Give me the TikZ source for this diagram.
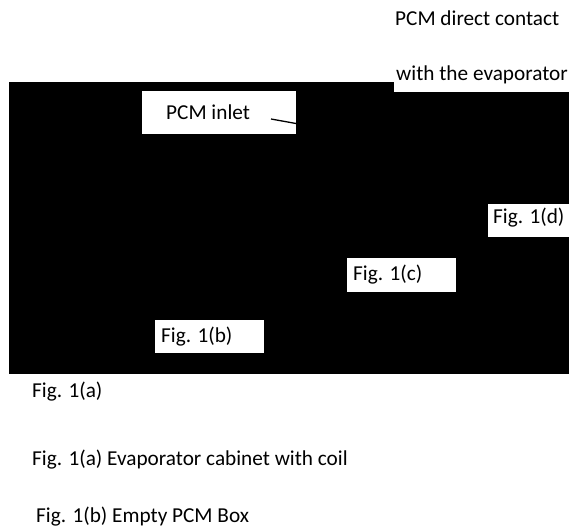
\documentclass[tikz,border=0pt]{standalone}
\usepackage{fontspec}
\setmainfont{Carlito}
\begin{document}
\begin{tikzpicture}[x=1pt,y=-1pt,
  txt/.style={anchor=base west,inner sep=0pt,font=\fontsize{21.25}{25}\selectfont},
  labelbox/.style={fill=white,draw=none}]
\useasboundingbox (0,0) rectangle (569,529);
% photo panel
\fill[black] (9,82) rectangle (569,374);
% white label boxes
\fill[labelbox] (394,60) rectangle (569,92);
\fill[labelbox] (142,91) rectangle (296,134);
\fill[labelbox] (488,204) rectangle (569,237);
\fill[labelbox] (347,258) rectangle (456,292);
\fill[labelbox] (155,320) rectangle (264,353);
% labels
\node[txt] (pcmdc) at (395,26) {PCM direct contact};
\node[txt] (evap) at (396,81) {with the evaporator};
\node[txt] (inlet) at (166,120) {PCM inlet};
\node[txt] (figd) at (493,223) {Fig. 1(d)};
\node[txt] (figc) at (353,280) {Fig. 1(c)};
\node[txt] (figb) at (161,342) {Fig. 1(b)};
\node[txt] (figa) at (32,397) {Fig. 1(a)};
\node[txt] (capa) at (32,465) {Fig. 1(a) Evaporator cabinet with coil};
\node[txt] (capb) at (36,522) {Fig. 1(b) Empty PCM Box};
% pointer from the inlet label
\coordinate (inletA) at (271,119);
\coordinate (inletB) at (296,123.5);
\draw[line width=1.3pt] (inletA) -- (inletB);
\end{tikzpicture}
\end{document}
